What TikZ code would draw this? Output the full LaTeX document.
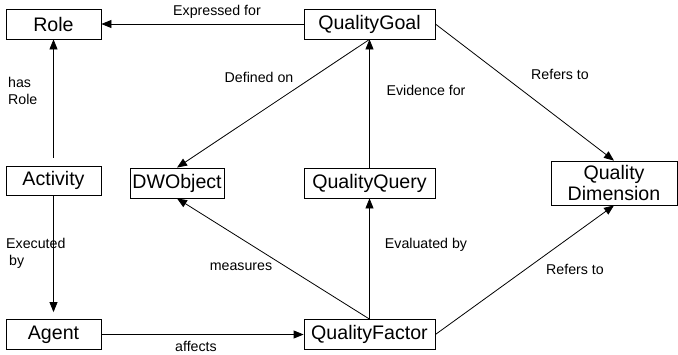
\documentclass[tikz,border=0pt]{standalone}
\usepackage{fontspec}
\setmainfont{Liberation Sans}
\usetikzlibrary{arrows.meta}
\tikzset{
  cls/.style={draw,line width=0.8pt,inner sep=0pt,minimum height=30pt,
    font=\fontsize{19.6}{21}\selectfont},
  rel/.style={font=\fontsize{14.2}{17}\selectfont,inner sep=0pt},
  assoc/.style={-{Triangle[length=10pt,width=8pt]},line width=0.8pt}
}
\begin{document}
\begin{tikzpicture}[x=1pt,y=-1pt]
\useasboundingbox (0,0) rectangle (678,354);
% classes
\node[cls,minimum width=95pt] (role) at (53.5,24) {Role};
\node[cls,minimum width=131pt] (qgoal) at (369.5,24) {QualityGoal};
\node[cls,minimum width=95pt,minimum height=29pt] (act) at (53.5,180.5) {Activity};
\node[cls,minimum width=94pt] (dwobj) at (177,183) {DWObject};
\node[cls,minimum width=131pt] (qquery) at (369.5,183) {QualityQuery};
\node[cls,minimum width=126pt,minimum height=44pt,align=center] (qdim) at (614,183) {Quality\\Dimension};
\node[cls,minimum width=95pt] (agent) at (53.5,334.5) {Agent};
\node[cls,minimum width=131pt] (qfac) at (369.5,334.5) {QualityFactor};
% relations
\draw[assoc] (qgoal.west) -- (role.east);
\draw[assoc,shorten <=8pt] (act.north) -- (role.south);
\draw[assoc] (qgoal.south) -- (dwobj.north);
\draw[assoc] (qquery.north) -- (qgoal.south);
\draw[assoc] (qgoal.east) -- (qdim.north);
\draw[assoc,shorten >=7pt] (act.south) -- (agent.north);
\draw[assoc] (qfac.north) -- (dwobj.south);
\draw[assoc] (qfac.north) -- (qquery.south);
\draw[assoc] (qfac.east) -- (qdim.south);
\draw[assoc] (agent.east) -- (qfac.west);
% relation names
\node[rel] (lexpr) at (217,12) {Expressed for};
\node[rel,align=left,anchor=west] (lhas) at (8,91) {has\\Role};
\node[rel] (ldef) at (259,77) {Defined on};
\node[rel] (levid) at (426,90) {Evidence for};
\node[rel] (lref) at (560,74) {Refers to};
\node[rel,align=left,anchor=west] (lexec) at (6,253) {Executed\\\hspace{3pt}by};
\node[rel] (lmeas) at (241,267) {measures};
\node[rel] (leval) at (426,245) {Evaluated by};
\node[rel] (lref2) at (575,269) {Refers to};
\node[rel] (laff) at (196,346.5) {affects};
\end{tikzpicture}
\end{document}
